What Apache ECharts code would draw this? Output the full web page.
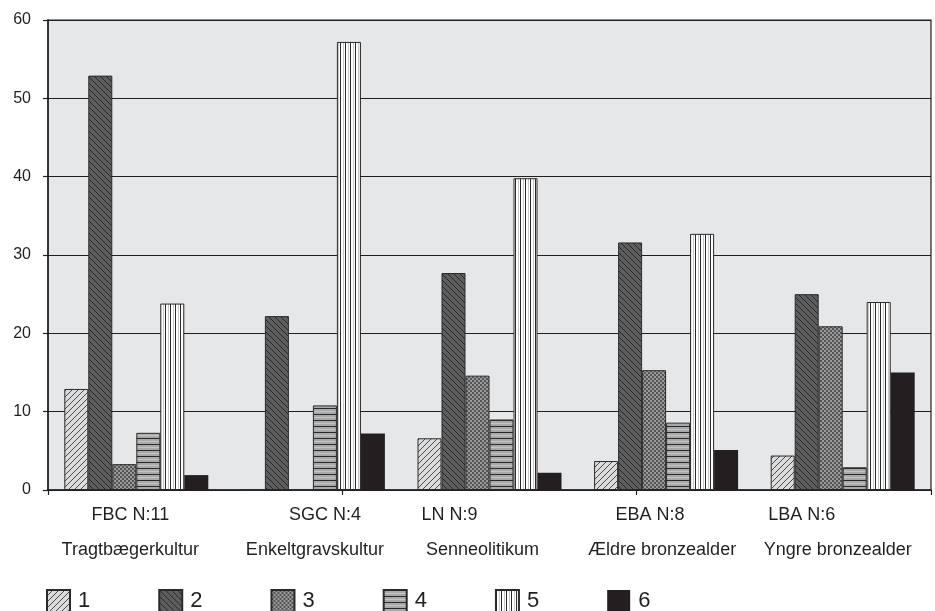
<!DOCTYPE html>
<html>
<head>
<meta charset="utf-8">
<script src="https://cdn.jsdelivr.net/npm/echarts@6/dist/echarts.min.js"></script>
<style>
html,body{margin:0;padding:0;background:#fff;}
#chart{width:935px;height:611px;}
</style>
</head>
<body>
<div id="chart"></div>
<script>
// ---- data ----
const categories = ['FBC', 'SGC', 'LN', 'EBA', 'LBA'];
const catLine1 = ['FBC N:11', 'SGC N:4', 'LN N:9', 'EBA N:8', 'LBA N:6'];
const catLine2 = ['Tragtbægerkultur', 'Enkeltgravskultur', 'Senneolitikum', 'Ældre bronzealder', 'Yngre bronzealder'];
const seriesNames = ['1', '2', '3', '4', '5', '6'];
const s1 = [12.9, 0, 6.6, 3.7, 4.4];
const s2 = [52.9, 22.2, 27.7, 31.6, 25.0];
const s3 = [3.3, 0, 14.6, 15.3, 20.9];
const s4 = [7.3, 10.8, 9.0, 8.6, 2.9];
const s5 = [23.8, 57.2, 39.8, 32.7, 24.0];
const s6 = [1.9, 7.2, 2.2, 5.1, 15.0];
const yTicks = [0, 10, 20, 30, 40, 50, 60];

// ---- patterns ----
function mk(w, h, draw) {
  const c = document.createElement('canvas');
  c.width = w; c.height = h;
  const g = c.getContext('2d');
  draw(g, w, h);
  return { image: c, repeat: 'repeat' };
}
const pat1 = mk(6, 6, (g, w, h) => {
  g.fillStyle = '#dcdcdc'; g.fillRect(0, 0, w, h);
  g.strokeStyle = '#4a4a4a'; g.lineWidth = 1;
  g.beginPath();
  g.moveTo(-1, 7); g.lineTo(7, -1);
  g.moveTo(-1, 1); g.lineTo(1, -1);
  g.moveTo(5, 7); g.lineTo(7, 5);
  g.stroke();
});
const pat2 = mk(6, 6, (g, w, h) => {
  g.fillStyle = '#5e5e5e'; g.fillRect(0, 0, w, h);
  g.strokeStyle = '#262626'; g.lineWidth = 1;
  g.beginPath();
  g.moveTo(-1, -1); g.lineTo(7, 7);
  g.moveTo(5, -1); g.lineTo(7, 1);
  g.moveTo(-1, 5); g.lineTo(1, 7);
  g.stroke();
});
const pat3 = mk(4, 4, (g, w, h) => {
  g.fillStyle = '#9a9a9a'; g.fillRect(0, 0, w, h);
  g.fillStyle = '#555555';
  g.fillRect(0, 0, 2, 2); g.fillRect(2, 2, 2, 2);
});
const pat4 = mk(6, 6, (g, w, h) => {
  g.fillStyle = '#a9a9a9'; g.fillRect(0, 0, w, h);
  g.fillStyle = '#c4c4c4'; g.fillRect(0, 3, w, 1);
  g.fillStyle = '#2a2a2a'; g.fillRect(0, 0, w, 1);
});
const pat5 = mk(5, 5, (g, w, h) => {
  g.fillStyle = '#ffffff'; g.fillRect(0, 0, w, h);
  g.fillStyle = '#2a2a2a'; g.fillRect(0, 0, 1, h);
  g.fillStyle = '#c8c8c8'; g.fillRect(3, 0, 1, h);
});
const fills = [pat1, pat2, pat3, pat4, pat5, '#231f20'];
const values = [s1, s2, s3, s4, s5, s6];

// per-label horizontal offsets (px) relative to category centre
const off1 = [-6, 12, -40, -16, -41];
const off2 = [-6, 2, -7, -4, -5];
const rich = {};
function pad(o) { return o < 0 ? [0, -2 * o, 0, 0] : [0, 0, 0, 2 * o]; }
categories.forEach((c, i) => {
  rich['a' + i] = { fontSize: 18, lineHeight: 35, color: '#231f20', fontFamily: 'Liberation Sans, Arial, sans-serif', padding: pad(off1[i]) };
  rich['b' + i] = { fontSize: 18, lineHeight: 35, color: '#231f20', fontFamily: 'Liberation Sans, Arial, sans-serif', padding: pad(off2[i]) };
});

const chart = echarts.init(document.getElementById('chart'), null, { renderer: 'canvas' });
chart.setOption({
  animation: false,
  backgroundColor: '#ffffff',
  textStyle: { fontFamily: 'Liberation Sans, Arial, sans-serif' },
  grid: {
    left: 48, right: 4, top: 20, bottom: 121,
    show: true, backgroundColor: '#e6e7e8', borderColor: '#231f20', borderWidth: 1.2,
    containLabel: false
  },
  legend: {
    data: seriesNames,
    left: 46, top: 589, padding: 0,
    icon: 'rect',
    itemWidth: 23, itemHeight: 22, itemGap: 68,
    textStyle: { fontSize: 22, color: '#231f20', padding: [0, 0, 0, 3] },
    selectedMode: false
  },
  xAxis: [{
    type: 'category',
    data: categories,
    axisLine: { lineStyle: { color: '#231f20', width: 1.5 } },
    axisTick: { show: false },
    axisLabel: {
      margin: 8,
      interval: 0,
      formatter: (v, i) => '{a' + i + '|' + catLine1[i] + '}\n{b' + i + '|' + catLine2[i] + '}',
      rich: rich
    }
  }, {
    type: 'category',
    data: ['', '', ''],
    position: 'bottom',
    axisLine: { show: false },
    axisTick: { show: true, length: 5, lineStyle: { color: '#231f20', width: 1.2 } },
    axisLabel: { show: false },
    splitLine: { show: false }
  }],
  yAxis: {
    type: 'value',
    min: yTicks[0], max: yTicks[yTicks.length - 1], interval: 10,
    axisLine: { show: true, lineStyle: { color: '#231f20', width: 1.5 } },
    axisTick: { show: true, length: 5, lineStyle: { color: '#231f20', width: 1.2 } },
    axisLabel: { fontSize: 16, color: '#231f20', margin: 17 },
    splitLine: { show: true, lineStyle: { color: '#231f20', width: 1.2 } }
  },
  series: seriesNames.map((n, k) => ({
    name: n,
    type: 'bar',
    xAxisIndex: 0,
    data: values[k],
    barWidth: 24,
    barGap: '0%',
    itemStyle: {
      color: fills[k],
      borderColor: k === 5 ? '#231f20' : '#2a2a2a',
      borderWidth: k === 5 ? 0 : 1
    }
  }))
});
</script>
</body>
</html>
